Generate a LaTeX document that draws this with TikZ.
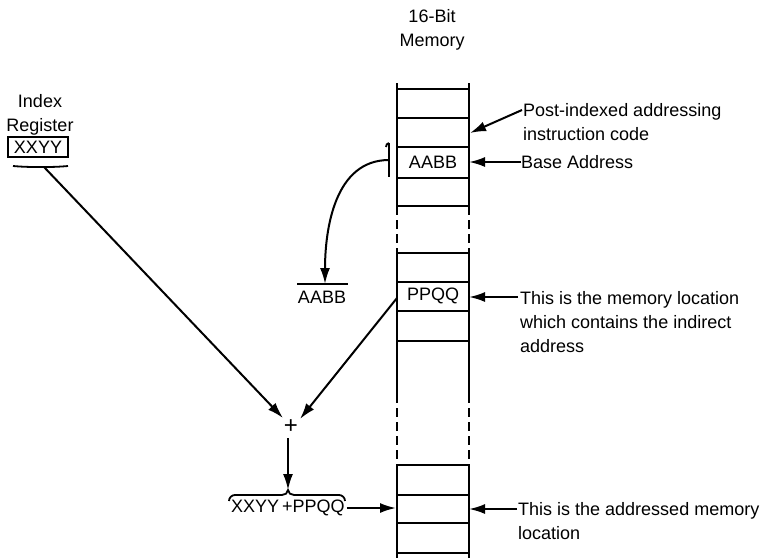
\documentclass[tikz,border=0pt]{standalone}
\usepackage{fontspec}
\setmainfont{Liberation Sans}
\usetikzlibrary{arrows.meta}
\begin{document}
\begin{tikzpicture}[x=1pt,y=-1pt,
  lbl/.style={font=\fontsize{18}{24}\selectfont, inner sep=0pt},
  memline/.style={line width=2pt},
  memdash/.style={line width=2pt, dash pattern=on 9pt off 5pt},
  arr/.style={line width=2pt, -{Latex[length=16pt,width=10pt]}},
  plain/.style={line width=1.8pt}]
\useasboundingbox (0,0) rectangle (767,558);
% title
\node[lbl, align=center] (title) at (432,30) {16-Bit\\Memory};
% memory column
\foreach \x in {397,469}{
  \draw[memline] (\x,83) -- (\x,206);
  \draw[memdash] (\x,206) -- (\x,253);
  \draw[memline] (\x,253) -- (\x,403);
  \draw[memdash] (\x,408) -- (\x,465);
  \draw[memline] (\x,465) -- (\x,558);
}
\foreach \y in {89,118,147,178,206,253,282,311,341,465,495,523,553}{
  \draw[memline] (397,\y) -- (469,\y);
}
\node[lbl] (aabbcell) at (433,162) {AABB};
\node[lbl] (ppqqcell) at (433,296) {PPQQ};
\coordinate (instr) at (470,133);
\coordinate (baseR) at (469,162);
\coordinate (ppqqR) at (469,297);
\coordinate (ppqqL) at (397,298);
\coordinate (targR) at (469,509);
\coordinate (targL) at (396,508);
% right labels
\node[lbl, anchor=base west, align=left] (postidx) at (523,140.5) {Post-indexed addressing\\instruction code};
\node[lbl, anchor=west] (baseaddr) at (521,162) {Base Address};
\node[lbl, anchor=base west, align=left] (indloc) at (520,352.5) {This is the memory location\\which contains the indirect\\address};
\node[lbl, anchor=base west, align=left] (addrloc) at (518,539.5) {This is the addressed memory\\location};
\coordinate (postidxS) at (522,110);
\draw[arr] (postidxS) -- (instr);
\draw[arr] (baseaddr.west) -- (baseR);
\draw[arr] (indloc.west |- ppqqR) ++(-2,0) -- (ppqqR);
\draw[arr] ([xshift=-1pt]addrloc.west |- targR) -- (targR);
% index register
\node[lbl, align=center] (idxlabel) at (40,115) {Index\\Register};
\node[lbl, draw, line width=1.6pt, minimum width=60pt, minimum height=20pt] (xxyy) at (38,147) {XXYY};
\coordinate (xxyyS) at (44,167);
\draw[plain] (13,166) to[out=-5,in=180] (44,167) to[out=0,in=185] (68,166);
% AABB bracket and copy
\draw[plain] (389,143) -- (389,177);
\draw[plain] (389,143) to[out=180,in=90] (386,147);
\coordinate (brk) at (389,160);
\node[lbl] (aabbcopy) at (322,297) {AABB};
\coordinate (aabbtop) at (325,284);
\draw[plain] (297,284) -- (348,284);
\draw[arr] (brk) to[out=180,in=90] (aabbtop);
% plus
\node[font=\fontsize{24}{26}\selectfont, inner sep=1pt] (plus) at (291,427) {+};
\coordinate (plusL) at (283,418);
\coordinate (plusR) at (300,419);
\draw[arr] (xxyyS) -- (plusL);
\draw[arr] (ppqqL) -- (plusR);
% sum
\coordinate (bracetip) at (288,490);
\draw[arr] (288,438) -- (bracetip);
\draw[plain] (229,501) to[out=90,in=180] (235,495) -- (282,495) to[out=0,in=-90] (288,490)
  to[out=-90,in=180] (294,495) -- (339,495) to[out=0,in=90] (345,501);
\node[lbl, anchor=west] (sum) at (231,508) {XXYY\,+PPQQ};
\draw[arr] ([xshift=2pt]sum.east) -- (targL);
\end{tikzpicture}
\end{document}
